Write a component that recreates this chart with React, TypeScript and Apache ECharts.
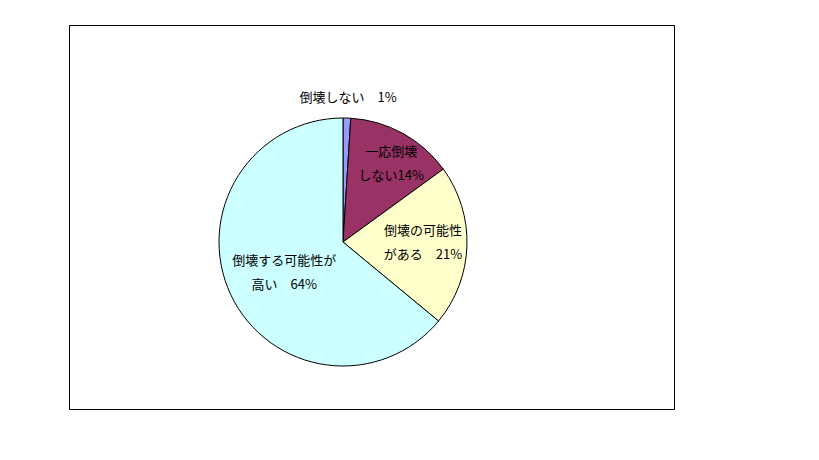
import * as echarts from 'echarts';
import React, { useEffect, useRef } from 'react';

// 回答区分（12時から時計回り）
const categories = ['倒壊しない　', '一応倒壊\nしない', '倒壊の可能性\nがある　', '倒壊する可能性が\n高い　'];
const shares = [1, 14, 21, 64];
const sliceColors = ['#9999FF', '#993366', '#FFFFCC', '#CCFFFF'];
// ラベルの内側位置からのずれ
const labelOffsets = [
  [3, -81],
  [17, -23],
  [15, -3],
  [0, 2],
];

const App: React.FC = () => {
  const chartRef = useRef<HTMLDivElement>(null);

  useEffect(() => {
    if (!chartRef.current) return;
    const chart = echarts.init(chartRef.current, undefined, { renderer: 'svg' });

    chart.setOption({
      animation: false,
      graphic: [
        {
          type: 'rect',
          shape: { x: 69.5, y: 25.5, width: 605, height: 384 },
          style: { fill: 'none', stroke: '#000', lineWidth: 1 },
          silent: true,
        },
      ],
      series: [
        {
          type: 'pie',
          center: [343, 242],
          radius: 124,
          startAngle: 90,
          clockwise: true,
          silent: true,
          emphasis: { disabled: true },
          itemStyle: { borderColor: '#000', borderWidth: 1 },
          label: {
            show: true,
            position: 'inside',
            formatter: '{b}{c}%',
            fontFamily: '"Noto Sans CJK JP", sans-serif',
            fontSize: 13,
            lineHeight: 24,
            color: '#000',
            align: 'center',
          },
          labelLine: { show: false },
          data: shares.map((v, i) => ({
            value: v,
            name: categories[i],
            itemStyle: { color: sliceColors[i] },
            label: { offset: labelOffsets[i] },
          })),
        },
      ],
    });

    return () => {
      chart.dispose();
    };
  }, []);

  return (
    <div
      ref={chartRef}
      style={{ position: 'absolute', left: 0, top: 0, width: 819, height: 460, background: '#fff' }}
    ></div>
  );
};

export default App;
